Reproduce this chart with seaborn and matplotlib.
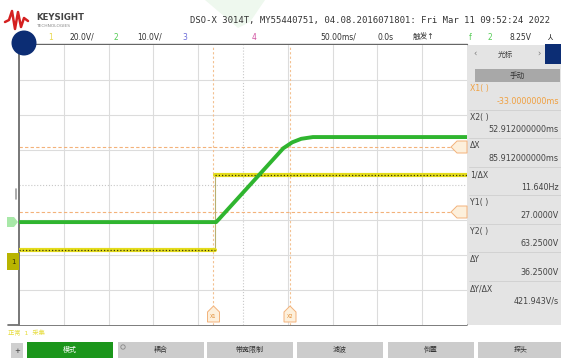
import matplotlib
matplotlib.use("Agg")
import matplotlib.pyplot as plt
from matplotlib.patches import Rectangle, Circle, Polygon
import seaborn as sns
import pandas as pd

W, H = 561, 358

# screen: 50 ms/div horizontally, values in divisions vertically (8 div)
time_ms_ch2 = [-250, -30, -27, 45, 55, 65, 78, 250]
ch2_div = [-1.06, -1.06, -0.98, 1.05, 1.22, 1.32, 1.37, 1.37]
time_ms_ch1_low = [-250, -31]
ch1_low_div = [-1.86, -1.86]
time_ms_ch1_high = [-31, 250]
ch1_high_div = [0.29, 0.29]
ch1_step_ms = [-31, -31]
ch1_step_div = [-1.86, 0.29]
cursor_x_ms = [-33.0, 52.912]
cursor_y_div = [-0.77, 1.09]
x_ticks_ms = [-250, -200, -150, -100, -50, 0, 50, 100, 150, 200, 250]
y_ticks_div = [-4, -3, -2, -1, 0, 1, 2, 3, 4]

header_line1 = "DSO-X 3014T, MY55440751, 04.08.2016071801: Fri Mar 11 09:52:24 2022"
panel_labels = ["X1( )", "X2( )", "ΔX", "1/ΔX", "Y1( )", "Y2( )", "ΔY", "ΔY/ΔX"]
panel_values = ["-33.0000000ms", "52.912000000ms", "85.912000000ms", "11.640Hz",
                "27.0000V", "63.2500V", "36.2500V", "421.943V/s"]
softkeys = ["模式", "耦合", "带宽限制", "滤波", "倒置", "探头"]

sns.set_theme(style="white")
plt.rcParams['font.family'] = ['DejaVu Sans', 'Noto Sans CJK SC']

fig = plt.figure(figsize=(W / 100, H / 100), dpi=100)
fig.patch.set_facecolor("white")

# background overlay in pixel coordinates
bg = fig.add_axes([0, 0, 1, 1], zorder=0)
bg.set_xlim(0, W)
bg.set_ylim(H, 0)
bg.axis("off")

# faint watermark
bg.add_patch(Polygon([(205, 0), (265, 0), (250, 22), (238, 28)], closed=True,
                     color="#eef8ee", lw=0))

# logo
bg.plot([5, 9, 12, 15, 18, 21, 24, 28], [22, 20, 11, 29, 12, 27, 18, 21],
        color="#d42020", lw=1.8)
bg.text(36, 17, "KEYSIGHT", fontsize=6.2, color="#444444", va="center",
        fontweight="bold")
bg.text(36, 26, "TECHNOLOGIES", fontsize=3.2, color="#888888", va="center")
bg.text(190, 21, header_line1, fontsize=6.4, family="DejaVu Sans Mono",
        color="#333333", va="center")

# header row 2
row2 = 37
bg.text(48, row2, "1", fontsize=5.5, color="#e8d84a", va="center")
bg.text(70, row2, "20.0V/", fontsize=5.5, color="#333333", va="center")
bg.text(114, row2, "2", fontsize=5.5, color="#55cc55", va="center")
bg.text(137, row2, "10.0V/", fontsize=5.5, color="#333333", va="center")
bg.text(182, row2, "3", fontsize=5.5, color="#6a6ad8", va="center")
bg.text(252, row2, "4", fontsize=5.5, color="#d050a0", va="center")
bg.text(320, row2, "50.00ms/", fontsize=5.5, color="#333333", va="center")
bg.text(378, row2, "0.0s", fontsize=5.5, color="#333333", va="center")
bg.text(413, row2, "触发↑", fontsize=5.5, color="#333333", va="center")
bg.text(469, row2, "f", fontsize=5.5, color="#55cc55", va="center")
bg.text(488, row2, "2", fontsize=5.5, color="#55cc55", va="center")
bg.text(510, row2, "8.25V", fontsize=5.5, color="#333333", va="center")
bg.text(547, row2, "⅄", fontsize=6, color="#333333", va="center")
bg.plot([30, 467], [44, 44], color="#666666", lw=1.0)

# right cursor panel
bg.add_patch(Rectangle((467, 45), W - 467, 280, color="#e4e4e4", lw=0))
bg.add_patch(Rectangle((545, 44), 16, 20, color="#0c2d74", lw=0))
bg.text(473, 54, "‹", fontsize=6, color="#777777", va="center")
bg.text(505, 54, "光标", fontsize=5.5, color="#444444", va="center", ha="center")
bg.text(537, 54, "›", fontsize=6, color="#777777", va="center")
bg.add_patch(Rectangle((475, 69), 85, 13, color="#a8a8a8", lw=0))
bg.text(517, 75.5, "手动", fontsize=5.5, color="#333333", va="center", ha="center")
for i, (lab, val) in enumerate(zip(panel_labels, panel_values)):
    y = 89 + i * 28.5
    col = "#f0a040" if i == 0 else "#444444"
    bg.text(470, y, lab, fontsize=5.6, color=col, va="center")
    bg.text(559, y + 12.5, val, fontsize=5.8, color=col, va="center", ha="right")
    if i > 0:
        bg.plot([469, W], [y - 8, y - 8], color="#cfcfcf", lw=0.6)

# bottom status + softkeys
bg.plot([8, 467], [325, 325], color="#666666", lw=1.2)
bg.text(8, 333, "正常  1  采集", fontsize=4.5, color="#e6dc3a", va="center")
bg.add_patch(Rectangle((11, 343), 12, 20, color="#cfcfcf", lw=0))
bg.text(17, 351, "+", fontsize=5, color="#333333", va="center", ha="center")
key_x = [27, 118, 207, 297, 388, 478]
for i, (kx, name) in enumerate(zip(key_x, softkeys)):
    col = "#1b961b" if i == 0 else "#cccccc"
    tcol = "white" if i == 0 else "#333333"
    bg.add_patch(Rectangle((kx, 342), 86, 22, color=col, lw=0))
    bg.text(kx + 43, 349, name, fontsize=5, color=tcol, va="center", ha="center")
bg.add_patch(Circle((123, 347), 2.2, fill=False, ec="#888888", lw=0.6))

# waveform area
ax = fig.add_axes([19 / W, 1 - 325 / H, (467 - 19) / W, 280 / H], zorder=1)
ax.set_xlim(x_ticks_ms[0], x_ticks_ms[-1])
ax.set_ylim(y_ticks_div[0], y_ticks_div[-1])
ax.set_facecolor("white")
for t in x_ticks_ms[1:-1]:
    ax.axvline(t, color="#c8c8c8" if t == 0 else "#dcdcdc",
               lw=0.8, ls=":" if t == 0 else "-", zorder=0)
for t in y_ticks_div[1:-1]:
    ax.axhline(t, color="#c8c8c8" if t == 0 else "#dcdcdc",
               lw=0.8, ls=":" if t == 0 else "-", zorder=0)
ax.set_xticks([])
ax.set_yticks([])
for side in ["top", "right", "bottom"]:
    ax.spines[side].set_visible(False)
ax.spines["left"].set_color("#777777")
ax.spines["left"].set_linewidth(1.4)

# cursors
for cy in cursor_y_div:
    ax.axhline(cy, color="#f3b27a", lw=0.8, ls=(0, (3, 2)), zorder=1)
for cx in cursor_x_ms:
    ax.axvline(cx, color="#f3c090", lw=0.8, ls=(0, (2, 2)), zorder=1)

ch2 = pd.DataFrame({"t": time_ms_ch2, "v": ch2_div})
lo = pd.DataFrame({"t": time_ms_ch1_low, "v": ch1_low_div})
hi = pd.DataFrame({"t": time_ms_ch1_high, "v": ch1_high_div})
step = pd.DataFrame({"t": ch1_step_ms, "v": ch1_step_div})

sns.lineplot(data=step, x="t", y="v", ax=ax, color="#b8b070", lw=0.8,
             sort=False, estimator=None, zorder=2)
for seg in (lo, hi):
    sns.lineplot(data=seg, x="t", y="v", ax=ax, color="#e4dc1c", lw=3.0,
                 sort=False, estimator=None, zorder=3)
    sns.lineplot(data=seg, x="t", y="v", ax=ax, color="#3a3a08", lw=0.9,
                 ls=(0, (1, 1.6)), sort=False, estimator=None, zorder=4)
sns.lineplot(data=ch2, x="t", y="v", ax=ax, color="#2fb52f", lw=2.8,
             sort=False, estimator=None, zorder=5)
ax.set_xlabel("")
ax.set_ylabel("")

# foreground markers in pixel coordinates
fg = fig.add_axes([0, 0, 1, 1], zorder=5)
fg.set_xlim(0, W)
fg.set_ylim(H, 0)
fg.axis("off")
fg.patch.set_alpha(0)
fg.add_patch(Circle((24, 43), 12.5, color="#0c2d74", lw=0))
fg.add_patch(Polygon([(7, 217), (14, 217), (18, 222), (14, 227), (7, 227)],
                     color="#a8e8a8", lw=0))
fg.add_patch(Rectangle((7, 253), 12, 17, color="#b8b400", lw=0))
fg.text(13, 261.5, "1", fontsize=5, color="#333300", va="center", ha="center")
fg.plot([16, 16], [189, 199], color="#9c9c9c", lw=1.2)
for xp, lab in [(213.5, "X1"), (290, "X2")]:
    fg.add_patch(Polygon([(xp - 6, 322), (xp - 6, 312), (xp, 306),
                          (xp + 6, 312), (xp + 6, 322)],
                         fc="#fdf0dc", ec="#f3b27a", lw=0.7))
    fg.text(xp, 316, lab, fontsize=3.5, color="#e08a30", va="center", ha="center")
for yp in (147, 212):
    fg.add_patch(Polygon([(467, yp - 6), (457, yp - 6), (451, yp),
                          (457, yp + 6), (467, yp + 6)],
                         fc="#fdf0dc", ec="#f3b27a", lw=0.7))

fig.savefig("out.png", dpi=100)
